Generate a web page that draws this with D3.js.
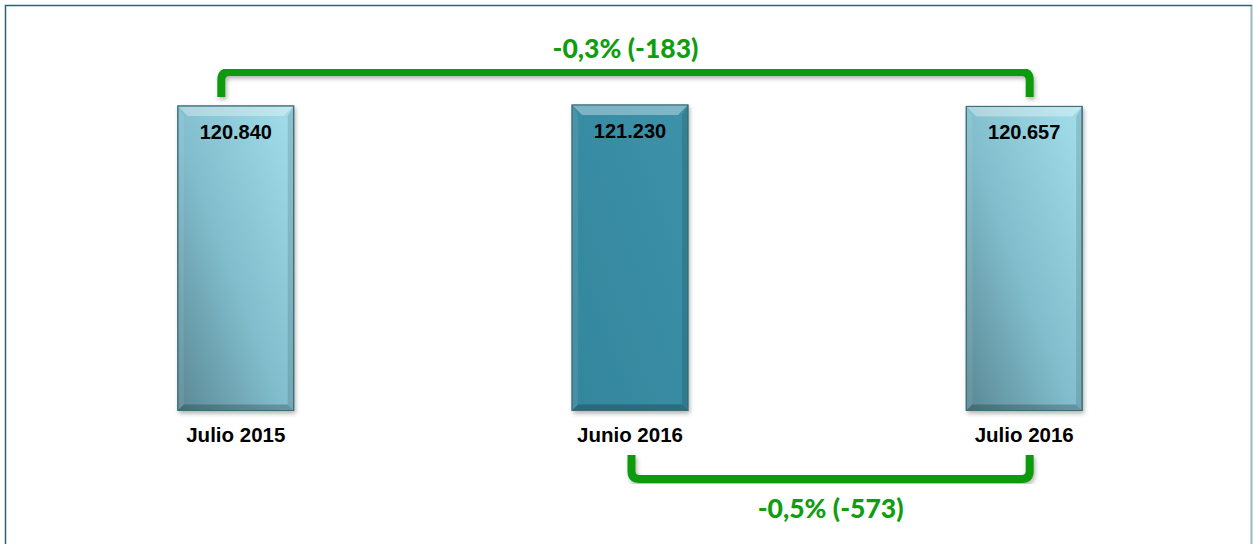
<!DOCTYPE html>
<html>
<head>
<meta charset="utf-8">
<script src="https://cdn.jsdelivr.net/npm/d3@7"></script>
<style>
  body { margin: 0; background: #fff; }
  .val-label { font-family: "Liberation Sans", Arial, sans-serif; font-weight: bold; font-size: 20px; fill: #000; }
  .cat-label { font-family: "Liberation Sans", Arial, sans-serif; font-weight: bold; font-size: 20.5px; fill: #000; }
  .diff-label { font-family: Lato, "Open Sans", sans-serif; font-weight: 900; font-size: 26.5px; fill: #109e10; }
</style>
</head>
<body>
<svg id="chart"></svg>
<script>
// data
const categories = ["Julio 2015", "Junio 2016", "Julio 2016"];
const values = [120840, 121230, 120657];
const valueLabels = ["120.840", "121.230", "120.657"];
const highlight = [false, true, false];
const comparisons = [
  {from: 0, to: 2, label: "-0,3% (-183)", side: "top"},
  {from: 1, to: 2, label: "-0,5% (-573)", side: "bottom"}
];

const width = 1253, height = 544;

const svg = d3.select("#chart")
  .attr("width", width)
  .attr("height", height);

const defs = svg.append("defs");

// light bar gradient (diagonal)
const gLight = defs.append("linearGradient")
  .attr("id", "barLight")
  .attr("x1", 0).attr("y1", 1).attr("x2", 1).attr("y2", 0);
gLight.append("stop").attr("offset", "0%").attr("stop-color", "#5a8894");
gLight.append("stop").attr("offset", "45%").attr("stop-color", "#80bccb");
gLight.append("stop").attr("offset", "100%").attr("stop-color", "#a2deeb");

const gDark = defs.append("linearGradient")
  .attr("id", "barDark")
  .attr("x1", 0).attr("y1", 1).attr("x2", 1).attr("y2", 0);
gDark.append("stop").attr("offset", "0%").attr("stop-color", "#34869c");
gDark.append("stop").attr("offset", "100%").attr("stop-color", "#3c92a9");

const shadow = defs.append("filter")
  .attr("id", "shadow")
  .attr("x", "-10%").attr("y", "-10%").attr("width", "130%").attr("height", "130%");
shadow.append("feDropShadow")
  .attr("dx", 1.5).attr("dy", 2.5).attr("stdDeviation", 2)
  .attr("flood-color", "#000").attr("flood-opacity", 0.3);

// frame
svg.append("rect")
  .attr("x", 5.5).attr("y", 5.5)
  .attr("width", 1246).attr("height", 545)
  .attr("fill", "none")
  .attr("stroke", "#2e6272")
  .attr("stroke-width", 1.5);
svg.append("line")
  .attr("x1", 1252).attr("x2", 1252).attr("y1", 6).attr("y2", 544)
  .attr("stroke", "#c9d8de").attr("stroke-width", 1.5);

// scales
const x = d3.scaleBand()
  .domain(categories)
  .range([99, 1161])
  .paddingInner(0.706)
  .paddingOuter(0.2);

const y = d3.scaleLinear()
  .domain([0, d3.max(values)])
  .range([410.5, 105]);

const bw = x.bandwidth();
const bev = 10;

const bars = svg.selectAll(".bar")
  .data(categories)
  .join("g")
  .attr("class", "bar")
  .attr("transform", d => `translate(${x(d)},0)`);

bars.each(function(d, i) {
  const g = d3.select(this);
  const top = y(values[i]);
  const bottom = y(0);
  const h = bottom - top;
  g.append("rect")
    .attr("x", 0).attr("y", top)
    .attr("width", bw).attr("height", h)
    .attr("fill", highlight[i] ? "url(#barDark)" : "url(#barLight)")
    .attr("stroke", "#3b6e7a")
    .attr("stroke-width", 1)
    .attr("filter", "url(#shadow)");
  // bevel faces
  g.append("path")
    .attr("d", `M0,${top}L${bw},${top}L${bw - bev},${top + bev}L${bev},${top + bev}Z`)
    .attr("fill", "#fff").attr("opacity", 0.35);
  g.append("path")
    .attr("d", `M0,${top}L${bev * 0.6},${top + bev}L${bev * 0.6},${bottom - bev * 0.6}L0,${bottom}Z`)
    .attr("fill", "#fff").attr("opacity", 0.08);
  g.append("path")
    .attr("d", `M${bw},${top}L${bw - bev * 0.6},${top + bev}L${bw - bev * 0.6},${bottom - bev * 0.6}L${bw},${bottom}Z`)
    .attr("fill", "#000").attr("opacity", 0.12);
  g.append("path")
    .attr("d", `M0,${bottom}L${bev * 0.6},${bottom - bev * 0.6}L${bw - bev * 0.6},${bottom - bev * 0.6}L${bw},${bottom}Z`)
    .attr("fill", "#000").attr("opacity", 0.22);
  g.append("rect")
    .attr("x", 0).attr("y", top)
    .attr("width", bw).attr("height", h)
    .attr("fill", "none")
    .attr("stroke", "#3b6e7a")
    .attr("stroke-width", 1);

  g.append("text")
    .attr("class", "val-label")
    .attr("x", bw / 2)
    .attr("y", top + 33)
    .attr("text-anchor", "middle")
    .text(valueLabels[i]);

  g.append("text")
    .attr("class", "cat-label")
    .attr("x", bw / 2)
    .attr("y", 442)
    .attr("text-anchor", "middle")
    .text(d);
});

// comparison brackets
const cx = i => x(categories[i]) + bw / 2;
const endOffset = [-14.5, 1.5, 5.5];

comparisons.forEach(c => {
  const x1 = cx(c.from) + endOffset[c.from];
  const x2 = cx(c.to) + endOffset[c.to];
  const r = 8;
  let p, ty;
  if (c.side === "top") {
    const yEnd = y(d3.max(values)) - 8, yLine = 72;
    p = `M${x1},${yEnd}V${yLine + r}Q${x1},${yLine} ${x1 + r},${yLine}H${x2 - r}Q${x2},${yLine} ${x2},${yLine + r}V${yEnd}`;
    ty = 58;
  } else {
    const yEnd = 455, yLine = 479;
    p = `M${x1},${yEnd}V${yLine - r}Q${x1},${yLine} ${x1 + r},${yLine}H${x2 - r}Q${x2},${yLine} ${x2},${yLine - r}V${yEnd}`;
    ty = 518;
  }
  svg.append("path")
    .attr("d", p)
    .attr("fill", "none")
    .attr("stroke", "#0a9a0a")
    .attr("stroke-width", 8)
    .attr("filter", "url(#shadow)");
  svg.append("text")
    .attr("class", "diff-label")
    .attr("x", (x1 + x2) / 2)
    .attr("y", ty)
    .attr("text-anchor", "middle")
    .text(c.label);
});
</script>
</body>
</html>
